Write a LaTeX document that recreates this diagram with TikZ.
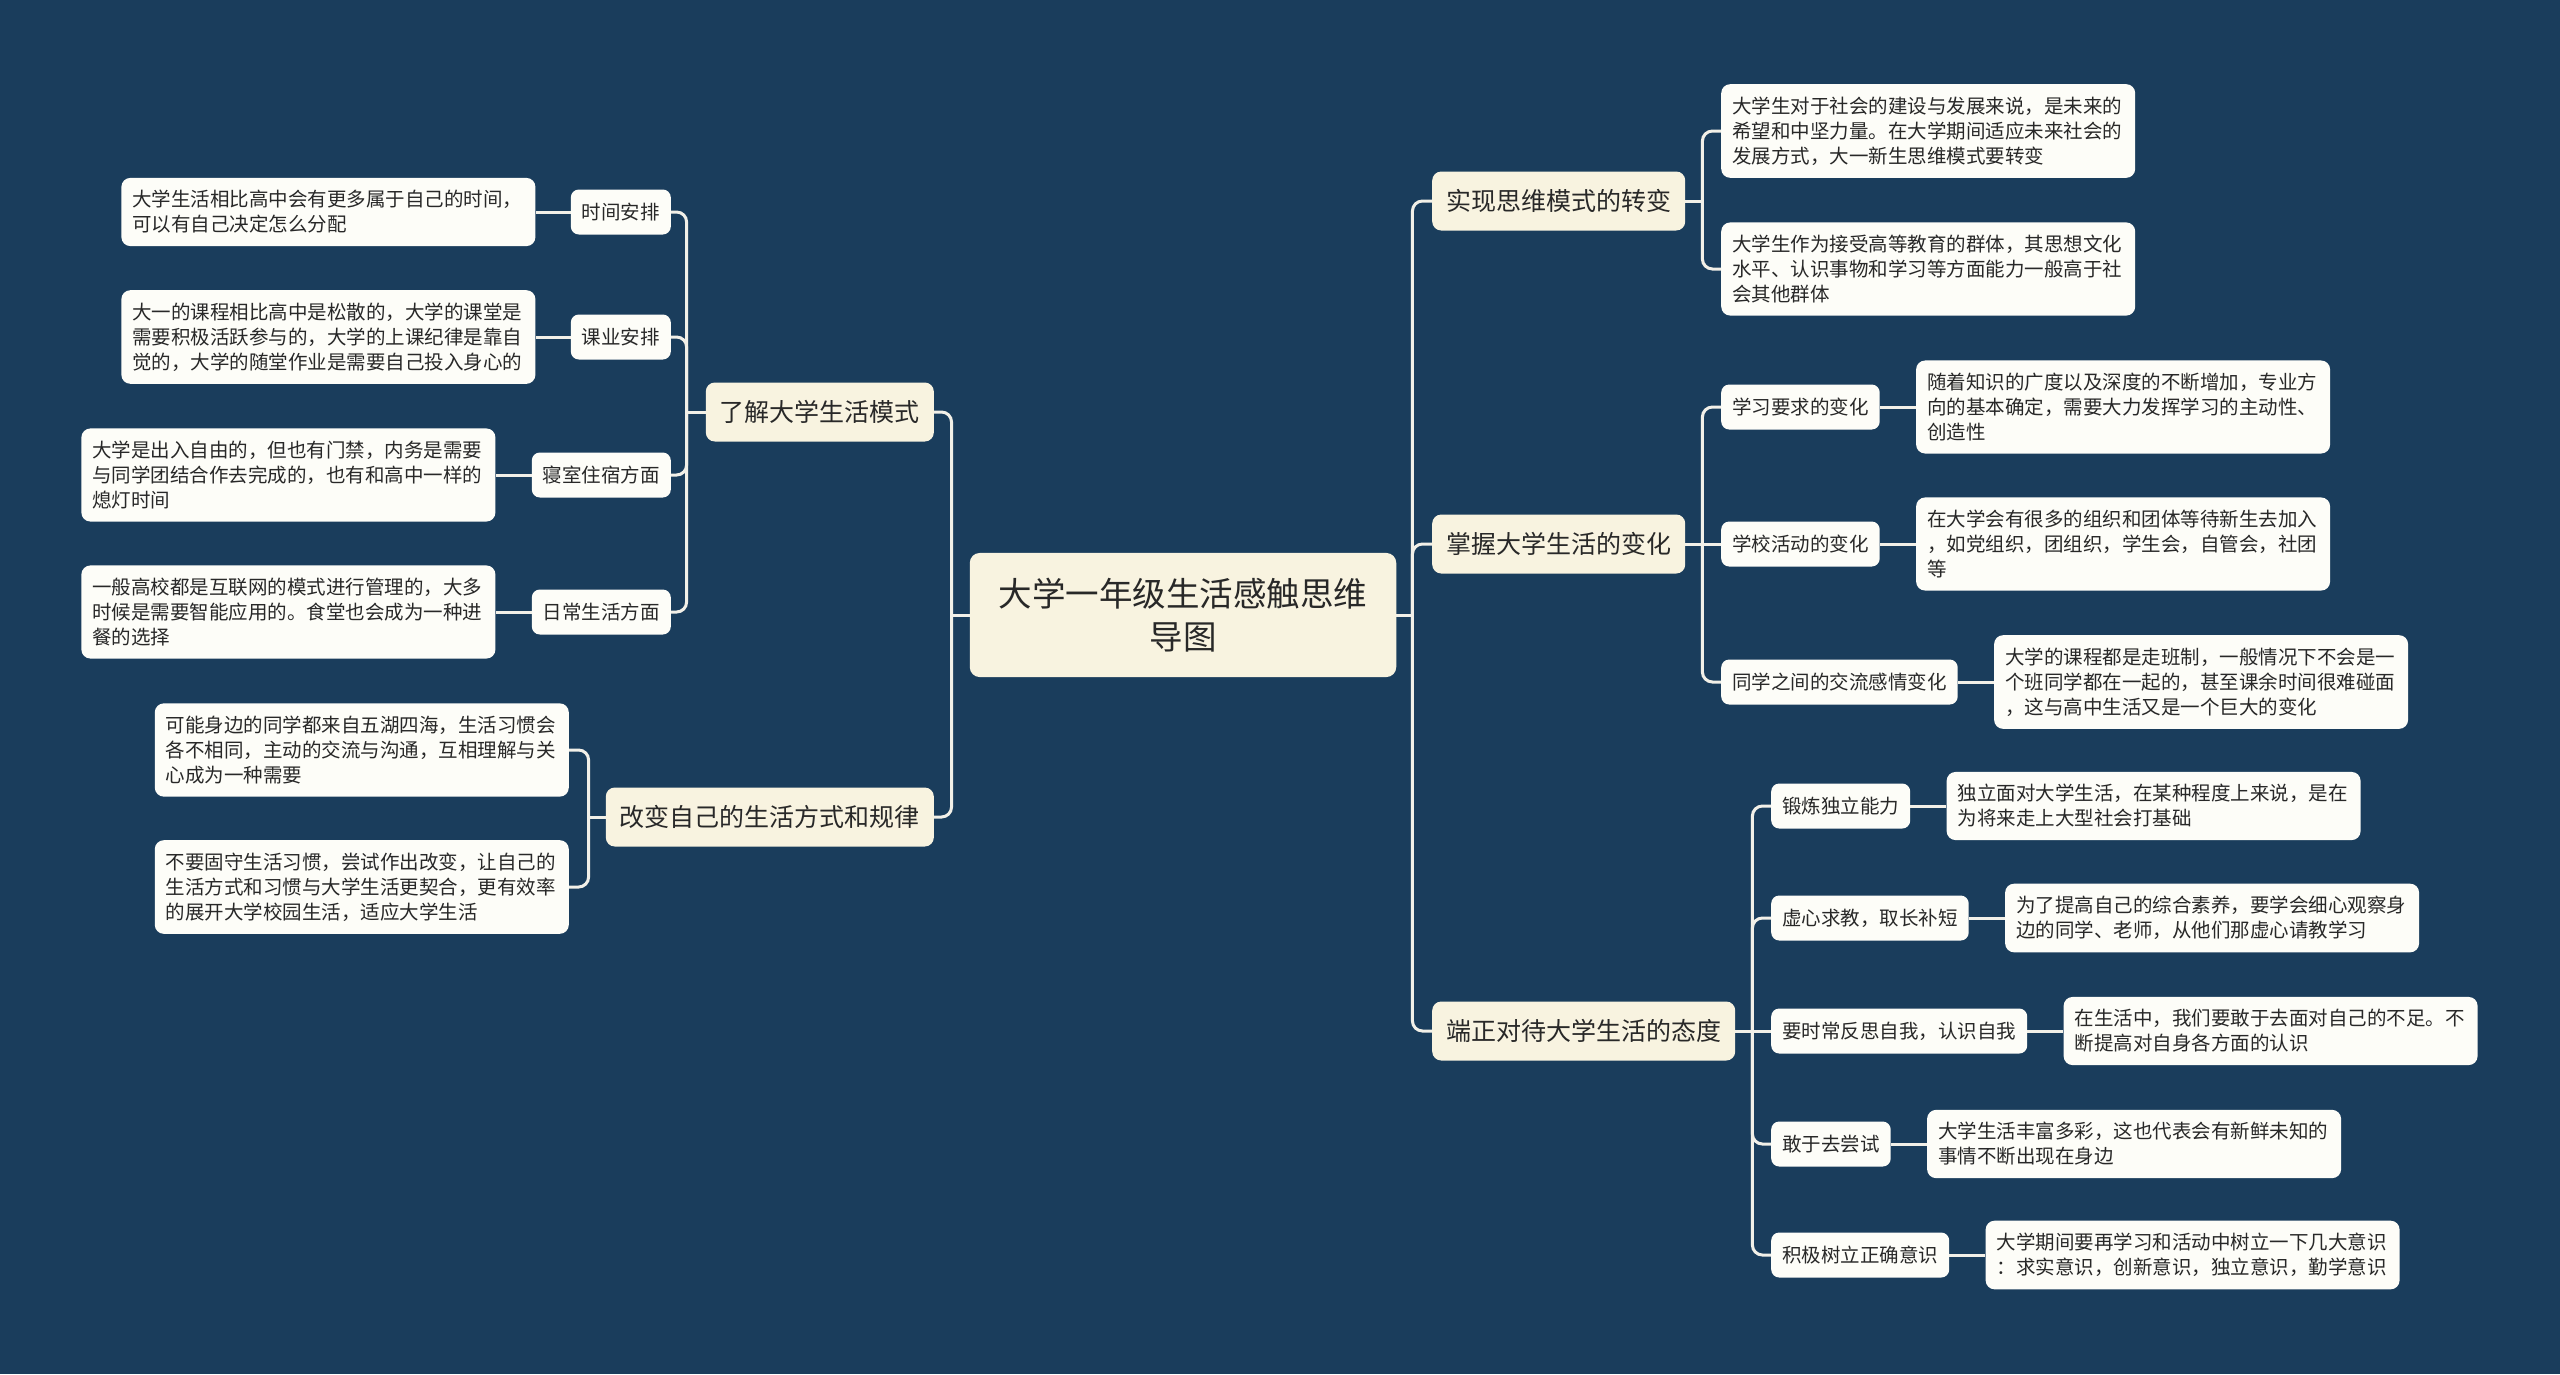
\documentclass[tikz,border=0pt]{standalone}
\usepackage{fontspec}
\setmainfont{Noto Sans CJK SC}
\definecolor{bg}{RGB}{26,61,92}
\definecolor{beige}{RGB}{248,243,224}
\definecolor{paper}{RGB}{253,253,248}
\definecolor{linec}{RGB}{242,240,232}
\definecolor{ink}{RGB}{40,40,40}
\begin{document}
\begin{tikzpicture}[x=1pt,y=-1pt,
  conn/.style={draw=linec, line width=3pt, rounded corners=10pt},
  rootbox/.style={fill=beige, text=ink, rounded corners=10pt, inner xsep=29pt, inner ysep=25pt, align=center, font=\fontsize{33.5}{43}\selectfont},
  lvone/.style={fill=beige, text=ink, rounded corners=9pt, inner xsep=14pt, inner ysep=0pt, minimum height=59pt, font=\fontsize{25}{30}\selectfont},
  lvtwo/.style={fill=paper, text=ink, rounded corners=8pt, inner xsep=11pt, inner ysep=0pt, minimum height=45pt, font=\fontsize{19.5}{25}\selectfont},
  descbox/.style={fill=paper, text=ink, rounded corners=9pt, inner xsep=11pt, inner ysep=12.5pt, text width=392pt, align=left, font=\fontsize{19.5}{25}\selectfont}]
\fill[bg] (0,0) rectangle (2560,1374);
\useasboundingbox (0,0) rectangle (2560,1374);

% root
\node[rootbox] (root) at (1183,615) {大学一年级生活感触思维\\导图};

% level one
\node[lvone, anchor=east] (A) at (934,412) {了解大学生活模式};
\node[lvone, anchor=east] (B) at (934,817) {改变自己的生活方式和规律};
\node[lvone, anchor=west] (C) at (1432,201) {实现思维模式的转变};
\node[lvone, anchor=west] (D) at (1432,544) {掌握大学生活的变化};
\node[lvone, anchor=west] (E) at (1432,1031) {端正对待大学生活的态度};

% A branch
\node[lvtwo, anchor=east] (A1) at (671,212) {时间安排};
\node[lvtwo, anchor=east] (A2) at (671,337) {课业安排};
\node[lvtwo, anchor=east] (A3) at (671,475) {寝室住宿方面};
\node[lvtwo, anchor=east] (A4) at (671,612) {日常生活方面};
\node[descbox, anchor=east] (A1d) at ([xshift=-35pt]A1.west) {大学生活相比高中会有更多属于自己的时间，\\可以有自己决定怎么分配};
\node[descbox, anchor=east] (A2d) at ([xshift=-35pt]A2.west) {大一的课程相比高中是松散的，大学的课堂是\\需要积极活跃参与的，大学的上课纪律是靠自\\觉的，大学的随堂作业是需要自己投入身心的};
\node[descbox, anchor=east] (A3d) at ([xshift=-36pt]A3.west) {大学是出入自由的，但也有门禁，内务是需要\\与同学团结合作去完成的，也有和高中一样的\\熄灯时间};
\node[descbox, anchor=east] (A4d) at ([xshift=-36pt]A4.west) {一般高校都是互联网的模式进行管理的，大多\\时候是需要智能应用的。食堂也会成为一种进\\餐的选择};

% B branch
\node[descbox, anchor=east] (B1d) at (569,750) {可能身边的同学都来自五湖四海，生活习惯会\\各不相同，主动的交流与沟通，互相理解与关\\心成为一种需要};
\node[descbox, anchor=east] (B2d) at (569,887) {不要固守生活习惯，尝试作出改变，让自己的\\生活方式和习惯与大学生活更契合，更有效率\\的展开大学校园生活，适应大学生活};

% C branch
\node[descbox, anchor=west] (C1d) at (1721,131) {大学生对于社会的建设与发展来说，是未来的\\希望和中坚力量。在大学期间适应未来社会的\\发展方式，大一新生思维模式要转变};
\node[descbox, anchor=west] (C2d) at (1721,269) {大学生作为接受高等教育的群体，其思想文化\\水平、认识事物和学习等方面能力一般高于社\\会其他群体};

% D branch
\node[lvtwo, anchor=west] (D1) at (1721,407) {学习要求的变化};
\node[lvtwo, anchor=west] (D2) at (1721,544) {学校活动的变化};
\node[lvtwo, anchor=west] (D3) at (1721,682) {同学之间的交流感情变化};
\node[descbox, anchor=west] (D1d) at ([xshift=36pt]D1.east) {随着知识的广度以及深度的不断增加，专业方\\向的基本确定，需要大力发挥学习的主动性、\\创造性};
\node[descbox, anchor=west] (D2d) at ([xshift=36pt]D2.east) {在大学会有很多的组织和团体等待新生去加入\\，如党组织，团组织，学生会，自管会，社团\\等};
\node[descbox, anchor=west] (D3d) at ([xshift=36pt]D3.east) {大学的课程都是走班制，一般情况下不会是一\\个班同学都在一起的，甚至课余时间很难碰面\\，这与高中生活又是一个巨大的变化};

% E branch
\node[lvtwo, anchor=west] (E1) at (1771,806) {锻炼独立能力};
\node[lvtwo, anchor=west] (E2) at (1771,918) {虚心求教，取长补短};
\node[lvtwo, anchor=west] (E3) at (1771,1031) {要时常反思自我，认识自我};
\node[lvtwo, anchor=west] (E4) at (1771,1144) {敢于去尝试};
\node[lvtwo, anchor=west] (E5) at (1771,1255) {积极树立正确意识};
\node[descbox, anchor=west] (E1d) at ([xshift=36pt]E1.east) {独立面对大学生活，在某种程度上来说，是在\\为将来走上大型社会打基础};
\node[descbox, anchor=west] (E2d) at ([xshift=36pt]E2.east) {为了提高自己的综合素养，要学会细心观察身\\边的同学、老师，从他们那虚心请教学习};
\node[descbox, anchor=west] (E3d) at ([xshift=36pt]E3.east) {在生活中，我们要敢于去面对自己的不足。不\\断提高对自身各方面的认识};
\node[descbox, anchor=west] (E4d) at ([xshift=36pt]E4.east) {大学生活丰富多彩，这也代表会有新鲜未知的\\事情不断出现在身边};
\node[descbox, anchor=west] (E5d) at ([xshift=36pt]E5.east) {大学期间要再学习和活动中树立一下几大意识\\：求实意识，创新意识，独立意识，勤学意识};

% junctions
\coordinate (jL) at ([xshift=-18pt]root.west);
\coordinate (jR) at ([xshift=16pt]root.east);
\coordinate (jA) at ([xshift=-19pt]A.west);
\coordinate (jB) at ([xshift=-17pt]B.west);
\coordinate (jC) at ([xshift=17pt]C.east);
\coordinate (jD) at ([xshift=17pt]D.east);
\coordinate (jE) at ([xshift=17pt]E.east);

% connectors
\draw[conn] (root.west) -- (jL);
\draw[conn] (root.east) -- (jR);
\draw[conn] (jL) |- (A.east);
\draw[conn] (jL) |- (B.east);
\draw[conn] (jR) |- (C.west);
\draw[conn] (jR) |- (D.west);
\draw[conn] (jR) |- (E.west);

\draw[conn] (A.west) -- (jA);
\foreach \n in {A1,A2,A3,A4} { \draw[conn] (jA) |- (\n.east); }
\foreach \n in {A1,A2,A3,A4} { \draw[conn] (\n.west) -- (\n d.east); }

\draw[conn] (B.west) -- (jB);
\draw[conn] (jB) |- (B1d.east);
\draw[conn] (jB) |- (B2d.east);

\draw[conn] (C.east) -- (jC);
\draw[conn] (jC) |- (C1d.west);
\draw[conn] (jC) |- (C2d.west);

\draw[conn] (D.east) -- (jD);
\draw[conn] (jD) |- (D1.west);
\draw[conn] (jD) -- (D2.west);
\draw[conn] (jD) |- (D3.west);
\foreach \n in {D1,D2,D3} { \draw[conn] (\n.east) -- (\n d.west); }

\draw[conn] (E.east) -- (jE);
\draw[conn] (jE) |- (E1.west);
\draw[conn] (jE) |- (E2.west);
\draw[conn] (jE) -- (E3.west);
\draw[conn] (jE) |- (E4.west);
\draw[conn] (jE) |- (E5.west);
\foreach \n in {E1,E2,E3,E4,E5} { \draw[conn] (\n.east) -- (\n d.west); }
\end{tikzpicture}
\end{document}
